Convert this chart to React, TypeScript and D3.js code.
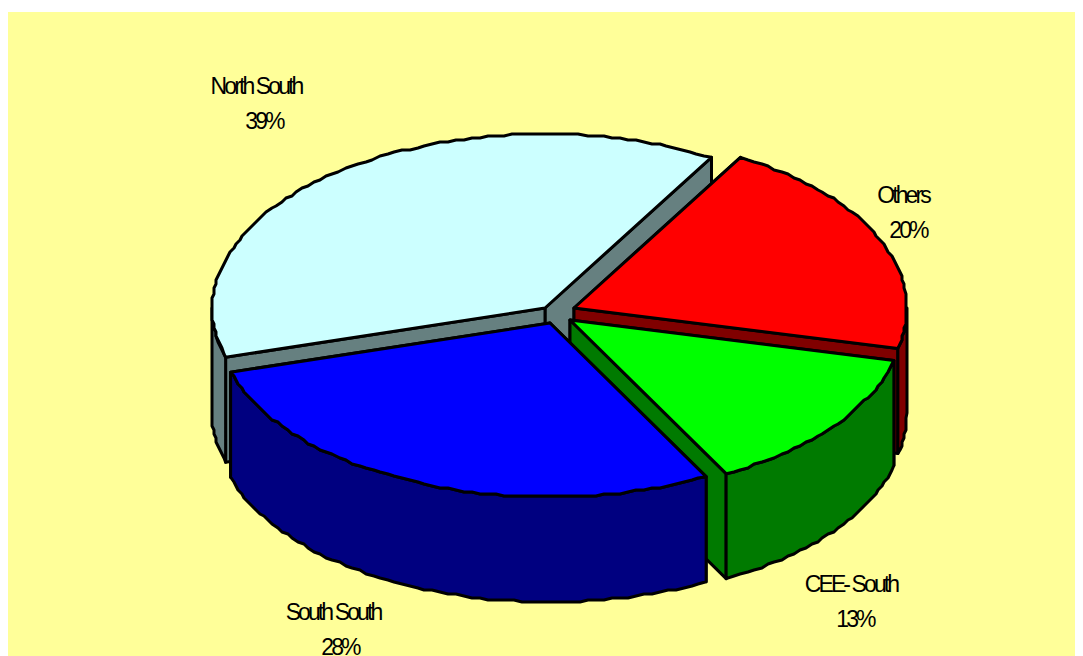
import React from 'react';
import * as d3 from 'd3';

const categories = ['Others', 'CEE- South', 'South South', 'North South'];
// percent printed on the labels
const percents = [20, 13, 28, 39];
// slice sizes as they appear in the squashed 3d view, read from the rim
const drawnShares = [20.4, 13.5, 28.2, 37.9];
const topColors = ['#FF0000', '#00FF00', '#0000FF', '#CCFFFF'];
const sideColors = ['#800000', '#007A00', '#000080', '#668080'];

// how far each slice is pulled out of the pie, in pixels
const pullOut = [[18, -7], [14, 5], [-6, 8], [-11, -7]];
// back to front
const drawOrder = [3, 0, 1, 2];
// label centre x, first baseline y, and centre x of the percent line
const labelSpots = [[903, 203, 908], [851, 592, 855], [333, 620, 340], [256, 94, 264]];

const width = 1083;
const height = 656;
const cx = 556;
const cy = 315;
const rx = 333;
const ry = 174;
const depth = 105;
const firstAngle = (30 * Math.PI) / 180;

type Pt = [number, number];

const line = d3.line<Pt>();

// excel draws the rim as a rough polygon, so snap the points a bit
const rim = (ox: number, oy: number, a: number): Pt => [
  ox + rx * Math.sin(a),
  oy - ry * Math.cos(a),
];
const rough = (p: Pt): Pt => [Math.round(p[0] / 2) * 2, Math.round(p[1] / 2) * 2];

const rimPoints = (ox: number, oy: number, a0: number, a1: number): Pt[] => {
  const steps = Math.max(2, Math.ceil(Math.abs(a1 - a0) / 0.025));
  const pts = d3.range(steps + 1).map(i => {
    const p = rim(ox, oy, a0 + ((a1 - a0) * i) / steps);
    return i === 0 || i === steps ? p : rough(p);
  });
  return pts;
};

const arcs = d3
  .pie<number>()
  .sort(null)
  .startAngle(firstAngle)
  .endAngle(firstAngle + 2 * Math.PI)(drawnShares);

const slices = drawOrder.map(i => ({
  i,
  ox: cx + pullOut[i][0],
  oy: cy + pullOut[i][1],
  a0: arcs[i].startAngle,
  a1: arcs[i].endAngle,
}));

const Slice = ({ s }: { s: (typeof slices)[number] }) => {
  const { i, ox, oy, a0, a1 } = s;
  const stroke = { stroke: '#000', strokeWidth: 3, strokeLinejoin: 'round' as const };

  // the two cut faces, the one further back goes first
  const faces = [a0, a1]
    .map(a => rim(ox, oy, a))
    .sort((p, q) => p[1] - q[1])
    .map(p => [[ox, oy], p, [p[0], p[1] + depth], [ox, oy + depth]] as Pt[]);

  // outer wall only where the rim faces the viewer
  const w0 = Math.max(a0, Math.PI / 2);
  const w1 = Math.min(a1, (3 * Math.PI) / 2);
  let wall: Pt[] | null = null;
  if (w1 > w0) {
    const upper = rimPoints(ox, oy, w0, w1);
    const lower = rimPoints(ox, oy + depth, w1, w0);
    wall = [...upper, ...lower];
  }

  const top: Pt[] = [[ox, oy], ...rimPoints(ox, oy, a0, a1)];

  return (
    <g>
      {faces.map((f, k) => (
        <path key={k} d={line(f) + 'Z'} fill={sideColors[i]} {...stroke} />
      ))}
      {wall && <path d={line(wall) + 'Z'} fill={sideColors[i]} {...stroke} />}
      <path d={line(top) + 'Z'} fill={topColors[i]} {...stroke} />
    </g>
  );
};

export default function App() {
  return (
    <svg
      width={width}
      height={height}
      style={{ position: 'absolute', left: 0, top: 0, background: '#fff' }}
    >
      <rect x={8} y={12} width={1067} height={644} fill="#FFFF99" />
      {slices.map(s => (
        <Slice key={s.i} s={s} />
      ))}
      <g
        fontFamily="'Liberation Sans', Arial, sans-serif"
        fontSize={23}
        letterSpacing={-2.9}
        textAnchor="middle"
        fill="#000"
      >
        {categories.map((name, i) => (
          <g key={name}>
            <text x={labelSpots[i][0]} y={labelSpots[i][1]}>
              {name}
            </text>
            <text x={labelSpots[i][2]} y={labelSpots[i][1] + 35}>
              {percents[i]}%
            </text>
          </g>
        ))}
      </g>
    </svg>
  );
}
